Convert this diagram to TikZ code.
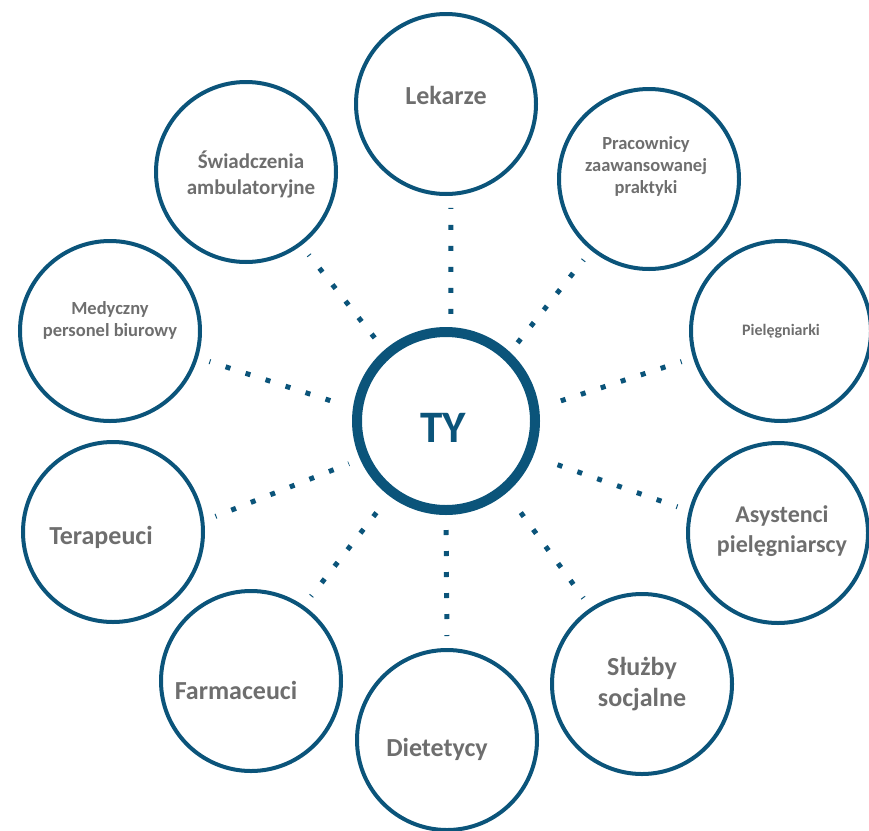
\documentclass[tikz,border=0pt]{standalone}
\usepackage{fontspec}
\setmainfont{Carlito}
\definecolor{ringblue}{HTML}{0B547A}
\definecolor{labelgray}{HTML}{6E6E6E}
\newcommand{\fs}[2]{\fontsize{#1}{#2}\selectfont}
\tikzset{
  ring/.style={circle, draw=ringblue, line width=4pt, minimum size=180pt, inner sep=0pt},
  hub/.style={circle, draw=ringblue, line width=10pt, minimum size=178pt, inner sep=0pt},
  link/.style={ringblue, line width=5pt, dash pattern=on 5pt off 16pt, dash phase=4pt,
    shorten <=12pt, shorten >=12pt},
  txt/.style={text=labelgray, align=center, inner sep=0pt}
}
\begin{document}
\begin{tikzpicture}[x=1pt, y=-1pt]
 \useasboundingbox (0,0) rectangle (869,830);
 \node[hub, label={[txt, text=ringblue, font=\bfseries\fs{45}{54}, xshift=-3pt, yshift=-7pt]center:TY}] at (446, 421) (ty) {};

 \node[ring, label={[txt, font=\bfseries\fs{26}{31}, yshift=9pt]center:Lekarze}] at (446, 104) (lek) {};
 \node[ring, label={[txt, font=\bfseries\fs{18.5}{22}, xshift=-3pt, yshift=13pt]center:Pracownicy\\zaawansowanej\\praktyki}] at (649, 179) (prac) {};
 \node[ring, label={[txt, font=\bfseries\fs{16}{19}]center:Pielęgniarki}] at (781, 331) (piel) {};
 \node[ring, label={[txt, font=\bfseries\fs{24}{30}, xshift=4pt, yshift=2pt]center:Asystenci\\pielęgniarscy}] at (778, 533) (asys) {};
 \node[ring, label={[txt, font=\bfseries\fs{26}{31}]center:Służby\\socjalne}] at (642, 684) (sluz) {};
 \node[ring, label={[txt, font=\bfseries\fs{26}{31}, xshift=-10pt, yshift=-9pt]center:Dietetycy}] at (447, 740) (diet) {};
 \node[ring, label={[txt, font=\bfseries\fs{26}{31}, xshift=-15pt, yshift=-9pt]center:Farmaceuci}] at (251, 681) (farm) {};
 \node[ring, label={[txt, font=\bfseries\fs{26}{31}, xshift=-12pt, yshift=-5pt]center:Terapeuci}] at (113, 532) (ter) {};
 \node[ring, label={[txt, font=\bfseries\fs{18.5}{22}, yshift=11pt]center:Medyczny\\personel biurowy}] at (110, 331) (med) {};
 \node[ring, label={[txt, font=\bfseries\fs{21}{26}, xshift=5pt, yshift=-2pt]center:Świadczenia\\ambulatoryjne}] at (246, 172) (swiad) {};

 % dotted spokes, outer ring to hub
 \draw[link] (lek.-87) -- (ty.87);
 \draw[link] (prac.231) -- (ty.47);
 \draw[link] (piel.197) -- (ty.8);
 \draw[link] (asys.166) -- (ty.-22);
 \draw[link] (sluz.124) -- (ty.-50);
 \draw[link] (diet.90) -- (ty.-90);
 \draw[link] (farm.55) -- (ty.233);
 \draw[link] (ter.7) -- (ty.204);
 \draw[link] (med.-17) -- (ty.172);
 \draw[link] (swiad.-53) -- (ty.131);
\end{tikzpicture}
\end{document}
